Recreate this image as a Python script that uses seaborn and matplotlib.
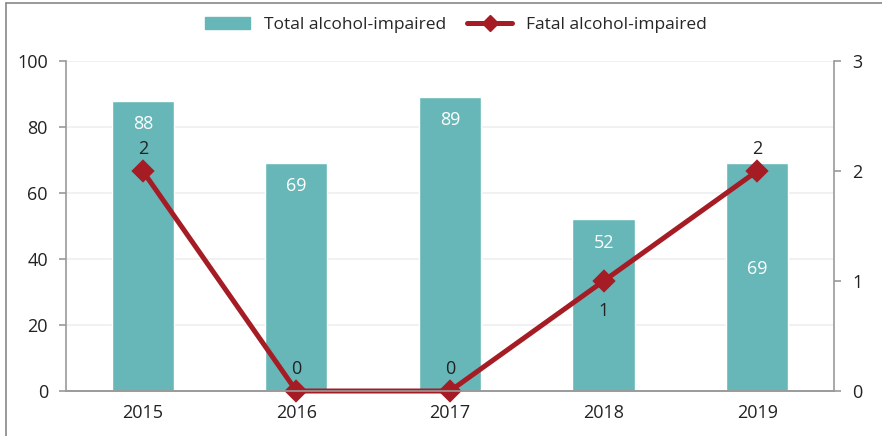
import matplotlib
matplotlib.use("Agg")
import matplotlib.pyplot as plt
import seaborn as sns
import pandas as pd
from matplotlib.lines import Line2D

# chart data
years = ["2015", "2016", "2017", "2018", "2019"]
total_impaired = [88, 69, 89, 52, 69]
fatal_impaired = [2, 0, 0, 1, 2]
# where the line labels sit: +1 above the point, -1 below it
fatal_label_side = [1, 1, 1, -1, 1]

bar_color = "#67b7b9"
line_color = "#a51c24"
axis_gray = "#9a9a9a"
text_color = "#222222"

sns.set_theme(style="white")
plt.rcParams["font.family"] = ["Open Sans", "DejaVu Sans"]

df = pd.DataFrame({"Year": years, "Total": total_impaired, "Fatal": fatal_impaired})

fig = plt.figure(figsize=(8.82, 4.36), dpi=100)
ax = fig.add_axes([0.0748, 0.1032, 0.8708, 0.7568])

sns.barplot(data=df, x="Year", y="Total", color=bar_color, width=0.405,
            saturation=1, ax=ax, zorder=2)
ax.set_ylim(0, 100)
ax.set_yticks([0, 20, 40, 60, 80, 100])
ax.grid(axis="y", color="#efefef", linewidth=1.2, zorder=0)
ax.set_axisbelow(True)
ax.set_xlabel("")
ax.set_ylabel("")

for i, v in enumerate(total_impaired):
    # 2019 label pushed down to make room for the line label
    off = 7 if i != 4 else 32
    ax.text(i, v - off, str(v), ha="center", va="center", color="white", fontsize=13)

ax2 = ax.twinx()
sns.pointplot(data=df, x="Year", y="Fatal", color=line_color, markers="D",
              markersize=9, linewidth=3.6, ax=ax2)
for ln in ax2.lines:
    ln.set_clip_on(False)
ax2.set_ylim(0, 3)
ax2.set_yticks([0, 1, 2, 3])
ax2.set_ylabel("")
for i, v in enumerate(fatal_impaired):
    dy = 0.2 if fatal_label_side[i] > 0 else -0.27
    ax2.text(i, v + dy, str(v), ha="center", va="center", color=text_color, fontsize=13)

for a in (ax, ax2):
    a.set_xlim(-0.5, 4.5)
    a.set_xticks(range(len(years)))
    a.set_xticks([k - 0.5 for k in range(len(years) + 1)], minor=True)
    a.tick_params(axis="x", which="major", length=0, pad=9, labelsize=13, labelcolor=text_color)
    a.tick_params(axis="x", which="minor", length=5, color=axis_gray, width=1.2, direction="out")
    for s in a.spines.values():
        s.set_visible(False)
    a.spines["bottom"].set_visible(True)
    a.spines["bottom"].set_color(axis_gray)
    a.spines["bottom"].set_linewidth(1.2)

ax.set_xticklabels(years)
ax2.set_xlabel("")
ax.spines["left"].set_visible(True)
ax.spines["left"].set_color(axis_gray)
ax.spines["left"].set_linewidth(1.2)
ax2.spines["right"].set_visible(True)
ax2.spines["right"].set_color(axis_gray)
ax2.spines["right"].set_linewidth(1.2)
ax.tick_params(axis="y", left=True, length=5, width=1.2, color=axis_gray,
               labelsize=13, labelcolor=text_color, pad=8)
ax2.tick_params(axis="y", right=True, length=5, width=1.2, color=axis_gray,
                labelsize=13, labelcolor=text_color, pad=8)

handles = [
    plt.Rectangle((0, 0), 1, 1, color=bar_color),
    Line2D([0], [0], color=line_color, linewidth=3.6, marker="D", markersize=8),
]
fig.legend(handles, ["Total alcohol-impaired", "Fatal alcohol-impaired"],
           loc="center", bbox_to_anchor=(0.517, 0.942), ncol=2, frameon=False,
           fontsize=12.5, handlelength=2.6, columnspacing=1.2, handletextpad=0.8)

# thin frame on the top and left edges of the picture
fig.add_artist(Line2D([6 / 882, 1], [1 - 3 / 436, 1 - 3 / 436], color="#888888", linewidth=1.2))
fig.add_artist(Line2D([6 / 882, 6 / 882], [0, 1 - 3 / 436], color="#888888", linewidth=1.2))

fig.savefig("out.png", dpi=100)
